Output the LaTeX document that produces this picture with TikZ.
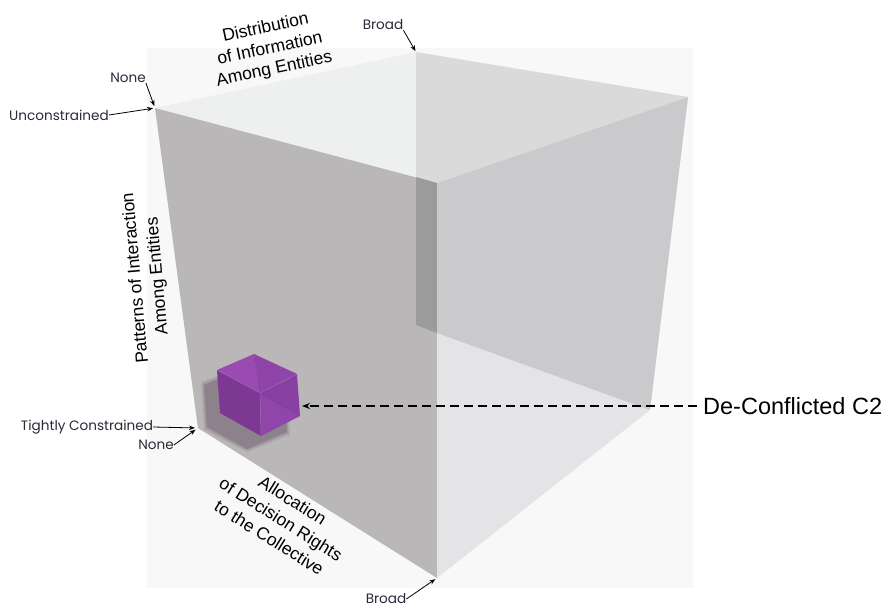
\documentclass[tikz,border=0pt]{standalone}
\usepackage{fontspec}
\setmainfont{Liberation Sans}
\newfontfamily\geofont{Poppins}
\usetikzlibrary{arrows.meta}

% face tones of the large transparent cube
\definecolor{backdrop}{HTML}{F8F8F8}
\definecolor{topface}{HTML}{EEF0F0}
\definecolor{topback}{HTML}{DADADA}
\definecolor{leftface}{HTML}{B9B7B8}
\definecolor{edgestrip}{HTML}{9B9B9B}
\definecolor{rightface}{HTML}{E4E4E7}
\definecolor{rightback}{HTML}{CACACC}
% small purple cube
\definecolor{ctop}{HTML}{9A4BB1}
\definecolor{ctopr}{HTML}{8E44A8}
\definecolor{cleft}{HTML}{7D3893}
\definecolor{cright}{HTML}{8840A2}
\definecolor{crightlo}{HTML}{8F45A9}
\definecolor{labelink}{HTML}{2A2A38}

\begin{document}
\begin{tikzpicture}[x=1pt,y=-1pt,
  axislabel/.style={font=\fontsize{17.5}{21}\selectfont, align=center, inner sep=0pt},
  endlabel/.style={font=\geofont\fontsize{13.6}{16}\selectfont, text=labelink, inner sep=0pt},
  pointer/.style={line width=0.8pt, -{Stealth[length=6pt,width=4.5pt]}},
  callout/.style={line width=1.3pt, dash pattern=on 9pt off 5pt, -{Stealth[length=8pt,width=6pt]}}
]
\useasboundingbox[fill=white] (0,0) rectangle (886,608);
\fill[backdrop] (147,48) rectangle (693,588);

% vertices of the large cube
\coordinate (A)  at (155,108);
\coordinate (B)  at (416,52);
\coordinate (C)  at (688,97);
\coordinate (D)  at (437,183);
\coordinate (A2) at (198,428);
\coordinate (B2) at (416,325);
\coordinate (C2) at (650,410);
\coordinate (D2) at (437,578);
\coordinate (P)  at (416,177);
\coordinate (Q)  at (437,333);

% faces, with the darker overlaps where the back wall shows through
\fill[topface]   (A) -- (B) -- (C) -- (D) -- cycle;
\fill[topback]   (B) -- (C) -- (D) -- (P) -- cycle;
\fill[leftface]  (A) -- (D) -- (D2) -- (A2) -- cycle;
\fill[edgestrip] (P) -- (D) -- (Q) -- (B2) -- cycle;
\fill[rightface] (D) -- (C) -- (C2) -- (D2) -- cycle;
\fill[rightback] (D) -- (C) -- (C2) -- (Q) -- cycle;

% soft shadow of the small cube
\foreach \g/\o in {3/0.12,1.5/0.18,0/0.3}{
  \fill[black!55!violet!40!gray, opacity=\o]
    (204-\g,385-\g) -- (240,370-\g) -- (284+\g,390-\g) -- (287+\g,432+\g)
    -- (247,449+\g) -- (207-\g,427+\g) -- cycle;
}

% small purple cube
\coordinate (sa)  at (217,370);
\coordinate (sb)  at (254,354);
\coordinate (sc)  at (297,374);
\coordinate (scc) at (300,416);
\coordinate (sdd) at (261,436);
\coordinate (saa) at (220,413);
\coordinate (sm)  at (260,393);
\fill[ctop]     (sa) -- (sb) -- (sm) -- cycle;
\fill[ctopr]    (sb) -- (sc) -- (sm) -- cycle;
\fill[cright]   (sc) -- (scc) -- (sm) -- cycle;
\fill[crightlo] (scc) -- (sdd) -- (sm) -- cycle;
\fill[cleft]    (sa) -- (sm) -- (sdd) -- (saa) -- cycle;
\draw[white, opacity=0.18, line width=0.5pt] (sa) -- (sm) -- (sc) (sm) -- (sdd);
\draw[black, opacity=0.12, line width=0.5pt] (sb) -- (sm) -- (scc);

% axis titles
\node[axislabel, rotate=12] (dist) at (270,49)
  {Distribution\\of Information\\Among Entities};
\node[axislabel, rotate=95, font=\fontsize{17.5}{22}\selectfont] (patt) at (147,277)
  {Patterns of Interaction\\Among Entities};
\node[axislabel, rotate=-32, font=\fontsize{17.5}{22}\selectfont] (alloc) at (281,519)
  {Allocation\\of Decision Rights\\to the Collective};

% end-point labels and their pointers
\node[endlabel] (noneT)  at (128,78)  {None};
\node[endlabel] (uncon)  at (59,115)  {Unconstrained};
\node[endlabel] (broadT) at (383,25)  {Broad};
\node[endlabel] (tight)  at (87,427)  {Tightly Constrained};
\node[endlabel] (noneB)  at (156,445) {None};
\node[endlabel] (broadB) at (386,599) {Broad};

\draw[pointer, shorten >=2pt] (noneT.south east) -- (A);
\draw[pointer, shorten >=2pt] (uncon.east) -- (A);
\draw[pointer, shorten >=1pt] (broadT.south east) -- (B);
\draw[pointer, shorten >=3pt] (tight.east) -- (A2);
\draw[pointer, shorten >=3pt] (noneB.east) -- (A2);
\draw[pointer, shorten >=2pt] (broadB.east) -- (D2);

% call-out for the small cube
\node[font=\fontsize{23.5}{28}\selectfont, anchor=west, inner xsep=6pt, inner ysep=0pt]
  (dc) at (697,406) {De-Conflicted C2};
\coordinate (target) at (302,406);
\draw[callout] (dc.west) -- (target);
\end{tikzpicture}
\end{document}
